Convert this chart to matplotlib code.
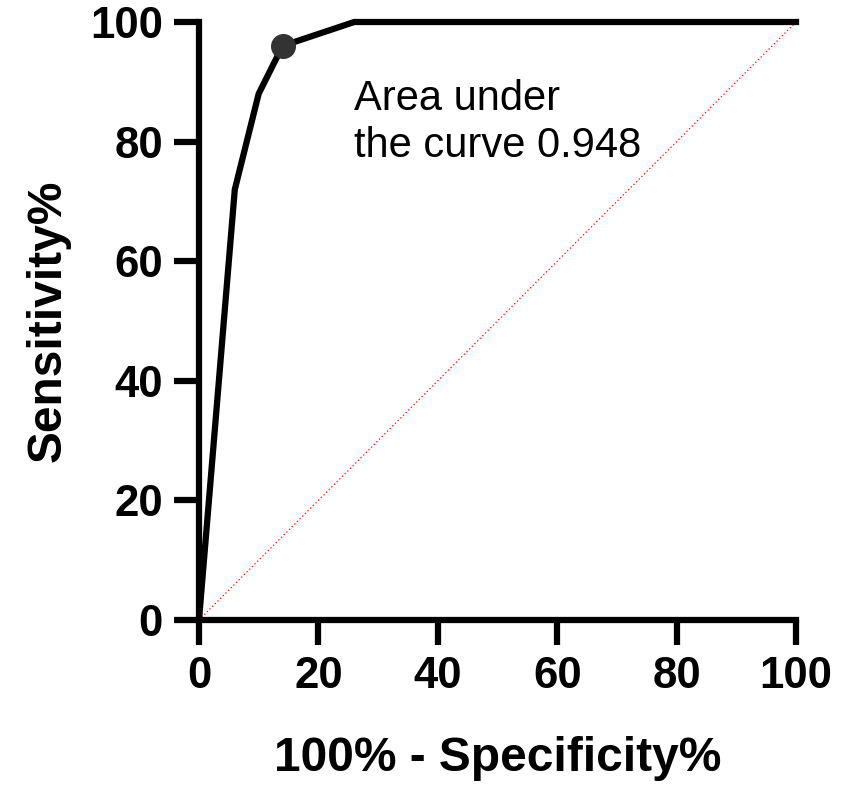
import matplotlib.pyplot as plt

plt.rcParams['font.family'] = ['Liberation Sans', 'DejaVu Sans']

# ROC curve points
fpr = [0, 6, 10, 14, 26, 100]
tpr = [0, 72, 88, 96, 100, 100]
cut_x = 14
cut_y = 96
ticks = [0, 20, 40, 60, 80, 100]
auc_text = "Area under\nthe curve 0.948"

fig = plt.figure(figsize=(8.41, 7.86), dpi=100)
ax = fig.add_axes([0.2366, 0.2112, 0.7099, 0.7608])

ax.plot([0, 100], [0, 100], color='red', linestyle=(0, (1, 2)), linewidth=0.9, zorder=1)
ax.plot(fpr, tpr, color='black', linewidth=4.5, solid_joinstyle='miter', zorder=2, clip_on=False)
ax.plot(cut_x, cut_y, 'o', color='#333333', markersize=17, zorder=3)

ax.text(26, 90.5, auc_text, fontsize=30, va='top', ha='left', linespacing=1.22)

ax.set_xlim(0, 100)
ax.set_ylim(0, 100)
ax.set_xticks(ticks)
ax.set_yticks(ticks)
ax.tick_params(width=4.5, length=18, labelsize=31.5, pad=8)
for lab in ax.get_xticklabels() + ax.get_yticklabels():
    lab.set_fontweight('bold')
for s in ['top', 'right']:
    ax.spines[s].set_visible(False)
for s in ['left', 'bottom']:
    ax.spines[s].set_linewidth(4.5)

ax.set_xlabel("100% - Specificity%", fontsize=34.5, fontweight='bold', labelpad=28)
ax.set_ylabel("Sensitivity%", fontsize=34.5, fontweight='bold', labelpad=14)

fig.savefig("out.png", dpi=100)
